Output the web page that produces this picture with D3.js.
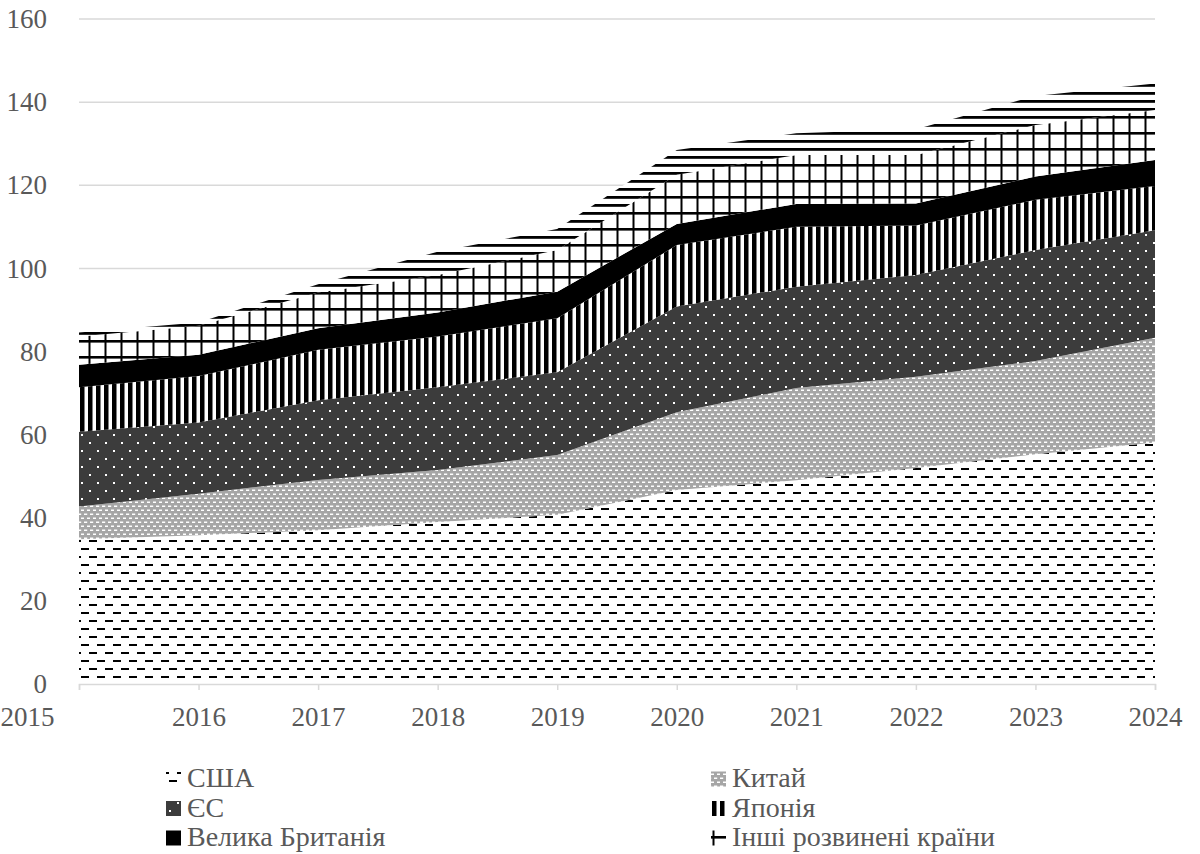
<!DOCTYPE html>
<html>
<head>
<meta charset="utf-8">
<script src="https://cdn.jsdelivr.net/npm/d3@7"></script>
<style>
  html, body { margin: 0; padding: 0; background: #fff; }
  svg { display: block; }
</style>
</head>
<body>
<svg id="chart" width="1200" height="854"></svg>
<script>
// Years on the horizontal axis
const years = ["2015", "2016", "2017", "2018", "2019", "2020", "2021", "2022", "2023", "2024"];

// Values per series, stacked bottom to top
const usa      = [34.8, 35.8, 37.0, 39.0, 40.7, 46.7, 49.0, 52.0, 55.3, 58.1];
const china    = [7.9, 10.0, 12.1, 12.5, 14.4, 18.7, 22.2, 21.9, 22.4, 25.2];
const eu       = [18.0, 17.1, 19.2, 19.9, 19.9, 25.4, 24.4, 24.5, 26.7, 25.9];
const japan    = [10.7, 11.2, 12.1, 12.2, 13.0, 14.8, 14.4, 11.9, 12.1, 10.6];
const uk       = [5.4, 5.1, 5.2, 5.8, 6.4, 5.1, 5.5, 5.3, 5.6, 6.3];
const otherDev = [6.8, 7.0, 8.6, 9.0, 10.0, 11.8, 11.8, 11.7, 12.4, 12.0];
const rest     = [1.0, 0.8, 2.0, 5.6, 5.1, 6.0, 5.2, 6.2, 7.0, 6.4];

// Series names (the last band has no legend entry)
const seriesNames = ["США", "Китай", "ЄС", "Японія", "Велика Британія", "Інші розвинені країни", "Решта світу"];
const seriesValues = [usa, china, eu, japan, uk, otherDev, rest];

// Y axis ticks
const yTicks = [0, 20, 40, 60, 80, 100, 120, 140, 160];

// Legend entries: two columns, three rows
const legendNames = ["США", "Китай", "ЄС", "Японія", "Велика Британія", "Інші розвинені країни"];

const FONT = '"Liberation Serif"';
const TEXT_COLOR = "#595959";

const svg = d3.select("#chart");
const defs = svg.append("defs");

// Fill patterns, all in page coordinates so they line up across bands
function pattern(id, w, h, bg, rects) {
  const p = defs.append("pattern")
    .attr("id", id)
    .attr("patternUnits", "userSpaceOnUse")
    .attr("width", w).attr("height", h);
  p.append("rect").attr("width", w).attr("height", h).attr("fill", bg);
  rects.forEach(r => {
    p.append("rect").attr("x", r[0]).attr("y", r[1]).attr("width", r[2]).attr("height", r[3]).attr("fill", r[4]);
  });
}
pattern("p-usa", 16, 16, "#fff", [[1, 4, 8, 2, "#000"], [9, 12, 8, 2, "#000"], [-7, 12, 8, 2, "#000"]]);
pattern("p-china", 6, 8, "#a6a6a6", [[0, 1.5, 3.2, 1.5, "#fff"], [3, 5.5, 3.2, 1.5, "#fff"]]);
pattern("p-eu", 16, 16, "#3c3c3c", [[1, 2, 2, 2, "#fff"], [9, 10, 2, 2, "#fff"]]);
pattern("p-japan", 8, 8, "#fff", [[0, 0, 4.5, 8, "#000"]]);
pattern("p-uk", 8, 8, "#000", []);
pattern("p-grid", 16, 16, "#fff", [[8.5, 0, 2, 16, "#000"], [0, 4, 16, 2.6, "#000"]]);
pattern("p-rest", 8, 8, "#fff", [[0, 4, 8, 2.8, "#000"]]);

const fills = ["url(#p-usa)", "url(#p-china)", "url(#p-eu)", "url(#p-japan)", "url(#p-uk)", "url(#p-grid)", "url(#p-rest)"];

// Scales in page pixels
const x = d3.scalePoint().domain(years).range([79, 1155]);
const y = d3.scaleLinear().domain([0, 160]).range([684, 19]);

// Horizontal gridlines
svg.append("g")
  .selectAll("line")
  .data(yTicks.filter(d => d > 0))
  .join("line")
  .attr("x1", 79).attr("x2", 1155)
  .attr("y1", d => y(d)).attr("y2", d => y(d))
  .attr("stroke", "#d9d9d9").attr("stroke-width", 1.5);

// Stack the series
const table = years.map((yr, i) => {
  const row = { year: yr };
  seriesNames.forEach((n, k) => { row[n] = seriesValues[k][i]; });
  return row;
});
const stacked = d3.stack().keys(seriesNames)(table);

const area = d3.area()
  .x(d => x(d.data.year))
  .y0(d => y(d[0]))
  .y1(d => y(d[1]));

svg.append("g")
  .selectAll("path")
  .data(stacked)
  .join("path")
  .attr("d", area)
  .attr("fill", (d, i) => fills[i]);

// X axis
const xAxis = svg.append("g")
  .attr("transform", `translate(0,${y(0)})`)
  .call(d3.axisBottom(x).tickSize(6).tickPadding(17));
xAxis.attr("font-family", null).attr("font-size", null);
xAxis.select(".domain").attr("stroke", "#d9d9d9").attr("stroke-width", 1.5);
xAxis.selectAll(".tick line").attr("stroke", "#d9d9d9").attr("stroke-width", 1.5);
xAxis.selectAll(".tick text")
  .style("font-family", FONT)
  .style("font-size", "27px")
  .attr("fill", TEXT_COLOR);
xAxis.selectAll(".tick text").filter((d, i) => i === 0).attr("dx", -52);

// Y axis labels
const yAxis = svg.append("g")
  .attr("transform", "translate(47,0)")
  .call(d3.axisLeft(y).tickValues(yTicks).tickSize(0).tickPadding(0));
yAxis.attr("font-family", null).attr("font-size", null);
yAxis.select(".domain").remove();
yAxis.selectAll(".tick text")
  .style("font-family", FONT)
  .style("font-size", "27px")
  .attr("fill", TEXT_COLOR);

// Legend
const legend = svg.append("g");
const colX = [166, 711];
const rowBase = [787, 816.5, 846];
legendNames.forEach((name, i) => {
  const cx = colX[i % 2];
  const by = rowBase[Math.floor(i / 2)];
  legend.append("rect")
    .attr("x", cx).attr("y", by - 15.5)
    .attr("width", 15).attr("height", 15)
    .attr("fill", fills[i]);
  legend.append("text")
    .attr("x", cx + 21).attr("y", by)
    .style("font-family", FONT)
    .style("font-size", "28px")
    .attr("fill", TEXT_COLOR)
    .text(name);
});
</script>
</body>
</html>
